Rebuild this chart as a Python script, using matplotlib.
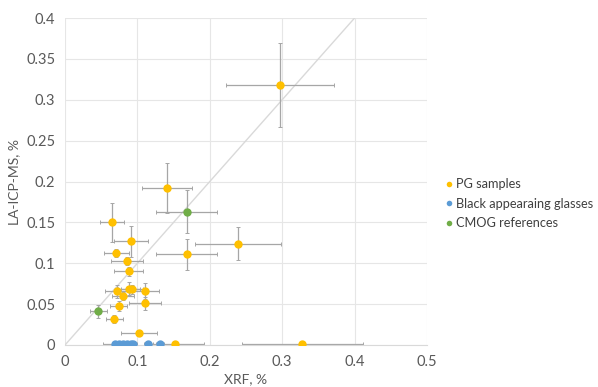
import matplotlib
matplotlib.use("Agg")
import matplotlib.pyplot as plt
from matplotlib.lines import Line2D

plt.rcParams['font.family'] = ['Lato', 'DejaVu Sans']

# PG samples
pg_x = [0.297, 0.141, 0.065, 0.091, 0.071, 0.086, 0.088, 0.072, 0.088, 0.093,
        0.110, 0.080, 0.074, 0.110, 0.068, 0.102, 0.152, 0.328, 0.239, 0.168]
pg_y = [0.318, 0.192, 0.150, 0.127, 0.113, 0.103, 0.090, 0.066, 0.069, 0.068,
        0.066, 0.060, 0.048, 0.051, 0.032, 0.015, 0.001, 0.001, 0.124, 0.111]
pg_xerr = [0.075, 0.035, 0.017, 0.023, 0.017, 0.022, 0.020, 0.017, 0.015, 0.015,
           0.020, 0.015, 0.012, 0.022, 0.012, 0.025, 0.040, 0.083, 0.060, 0.042]
pg_yerr = [0.051, 0.031, 0.024, 0.019, 0.005, 0.005, 0.005, 0.008, 0.008, 0.006,
           0.010, 0.005, 0.006, 0.008, 0.005, 0.003, 0.001, 0.001, 0.020, 0.019]

# Black appearing glasses
bk_x = [0.069, 0.075, 0.080, 0.085, 0.091, 0.094, 0.115, 0.131]
bk_y = [0.001, 0.001, 0.001, 0.001, 0.001, 0.001, 0.001, 0.001]
bk_xerr = [0.017, 0.005, 0.005, 0.005, 0.005, 0.005, 0.006, 0.006]
bk_yerr = [0.001, 0.001, 0.001, 0.001, 0.001, 0.001, 0.001, 0.001]

# CMOG references
cm_x = [0.168, 0.046]
cm_y = [0.163, 0.041]
cm_xerr = [0.042, 0.012]
cm_yerr = [0.026, 0.008]

labels = ["PG samples", "Black appearaing glasses", "CMOG references"]
colors = ["#FFC000", "#5B9BD5", "#70AD47"]

xticks = [0, 0.1, 0.2, 0.3, 0.4, 0.5]
yticks = [0, 0.05, 0.1, 0.15, 0.2, 0.25, 0.3, 0.35, 0.4]

fig = plt.figure(figsize=(5.98, 3.87), dpi=100)
ax = fig.add_axes([65/598, 1-345/387, (427-65)/598, (345-18)/387])

ax.set_xlim(0, 0.5)
ax.set_ylim(0, 0.4)
ax.set_xticks(xticks)
ax.set_xticklabels([f"{t:g}" for t in xticks])
ax.set_yticks(yticks)
ax.set_yticklabels([f"{t:g}" for t in yticks])
ax.grid(True, color="#e6e6e6", linewidth=0.8)
ax.set_axisbelow(True)
for s in ax.spines.values():
    s.set_visible(False)
ax.spines['bottom'].set_visible(True)
ax.spines['bottom'].set_color("#d9d9d9")
ax.tick_params(length=0, labelsize=10.5, colors="#595959", pad=7)

ax.plot([0, 0.4], [0, 0.4], color="#d9d9d9", linewidth=1.0, zorder=1)

series = [(pg_x, pg_y, pg_xerr, pg_yerr), (bk_x, bk_y, bk_xerr, bk_yerr),
          (cm_x, cm_y, cm_xerr, cm_yerr)]
for (x, y, xe, ye), c in zip(series, colors):
    ax.errorbar(x, y, xerr=xe, yerr=ye, fmt='none', ecolor="#a6a6a6",
                elinewidth=0.9, capsize=1.5, capthick=0.7, zorder=2)
for (x, y, xe, ye), c in zip(series, colors):
    ax.plot(x, y, 'o', color=c, markersize=6, markeredgewidth=0, zorder=3)

ax.set_xlabel("XRF, %", fontsize=10, color="#595959", labelpad=3)
ax.set_ylabel("LA-ICP-MS, %", fontsize=10, color="#595959", labelpad=4)

handles = [Line2D([], [], marker='o', linestyle='none', color=c, markersize=4,
                  markeredgewidth=0) for c in colors]
fig.legend(handles, labels, loc='upper left', bbox_to_anchor=(437/598, 1-173/387),
           frameon=False, fontsize=9.2, labelcolor="#404040", handletextpad=0.05,
           labelspacing=0.6, handlelength=1.0, borderaxespad=0)

fig.savefig("out.png", dpi=100)
